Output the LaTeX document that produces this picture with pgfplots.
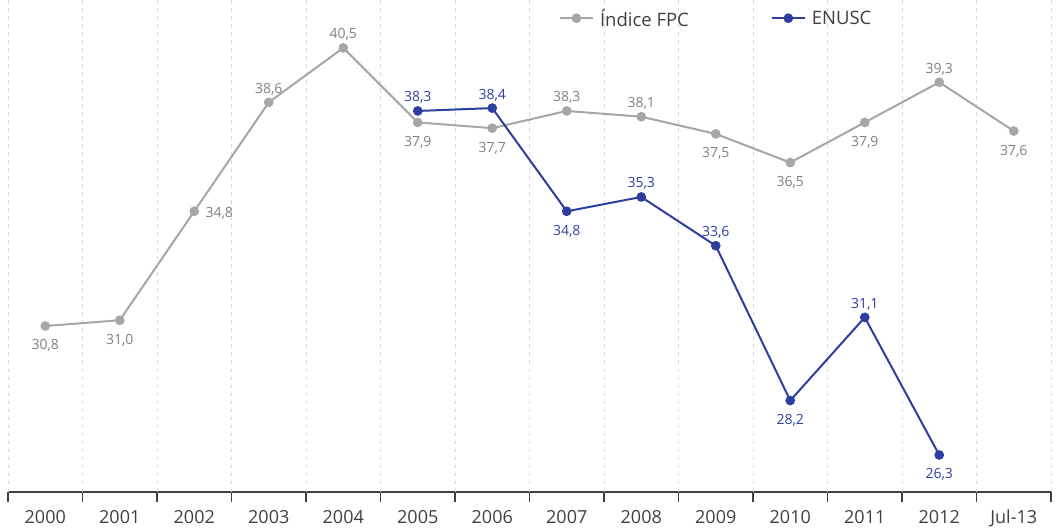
\documentclass[border=0pt]{standalone}
\usepackage{pgfplots}
\usepackage{pgfplotstable}
\usepackage{fontspec}
\pgfplotsset{compat=1.18}
\setmainfont{Open Sans}

\definecolor{fpcgray}{HTML}{A6A6A6}
\definecolor{fpclab}{HTML}{808080}
\definecolor{enuscblue}{HTML}{2E3E9F}
\definecolor{axiscol}{HTML}{404040}
\definecolor{gridcol}{HTML}{D9D9D9}

% x = category index, dx/dy = label offset (pt)
\pgfplotstableread{
x  y     dx  dy
0  30.8  0   -19
1  31.0  0   -19
2  34.8  25  -1
3  38.6  0   14
4  40.5  0   14
5  37.9  0   -19
6  37.7  0   -19
7  38.3  0   14
8  38.1  0   14
9  37.5  0   -19
10 36.5  0   -19
11 37.9  0   -19
12 39.3  0   14
13 37.6  0   -19
}\fpc

\pgfplotstableread{
x  y     dx  dy
5  38.3  0   14
6  38.4  0   14
7  34.8  0   -19
8  35.3  0   14
9  33.6  0   14
10 28.2  0   -19
11 31.1  0   14
12 26.3  0   -18
}\enusc

\begin{document}
\begin{tikzpicture}
\begin{axis}[
    at={(8pt,38pt)}, anchor=south west,
    scale only axis,
    width=1043pt, height=492pt,
    xmin=-0.5, xmax=13.5,
    ymin=25.01, ymax=42.17,
    clip=false,
    axis x line*=bottom,
    axis y line=none,
    axis line style={color=axiscol, line width=1.2pt},
    xtick={0,...,13},
    xticklabels={2000,2001,2002,2003,2004,2005,2006,2007,2008,2009,2010,2011,2012,Jul-13},
    major tick length=0pt,
    xticklabel style={font=\fontsize{18}{20}\selectfont, text=axiscol,
        anchor=north, inner sep=0pt, text height=13pt, yshift=-18pt},
    extra x ticks={-0.5,0.5,...,13.5},
    extra x tick labels={},
    extra x tick style={major tick length=10pt, tick align=outside,
        tick style={color=axiscol, line width=1.2pt},
        grid=major,
        major grid style={color=gridcol, line width=0.8pt, dash pattern=on 3.5pt off 4.5pt}},
    /pgf/number format/.cd, use comma, fixed, fixed zerofill, precision=1, assume math mode=true,
    /pgfplots/.cd,
    nodes near coords,
    visualization depends on={\thisrow{dx} \as \dx},
    visualization depends on={\thisrow{dy} \as \dy},
    every node near coord/.append style={anchor=center, inner sep=0pt,
        text height=10pt, text depth=0pt,
        xshift=\dx pt, yshift=\dy pt,
        font=\fontsize{14}{16}\selectfont},
    legend style={draw=none, fill=none, at={(0.679,0.963)}, anchor=center,
        font=\fontsize{18.5}{20}\selectfont, text=axiscol,
        /tikz/every odd column/.append style={column sep=4pt},
        /tikz/every even column/.append style={column sep=80pt}},
    legend columns=2,
    legend cell align=left,
    legend image code/.code={\draw[mark repeat=2,mark phase=2,#1]
        plot coordinates {(0pt,0pt) (16.5pt,0pt) (33pt,0pt)};},
]
\addplot[color=fpcgray, line width=2pt, mark=*, mark size=3.8pt,
    every node near coord/.append style={text=fpclab}]
    table[x=x, y=y, meta=y] {\fpc};
\addlegendentry{Índice FPC}
\addplot[color=enuscblue, line width=2pt, mark=*, mark size=3.8pt,
    every node near coord/.append style={text=enuscblue}]
    table[x=x, y=y, meta=y] {\enusc};
\addlegendentry{ENUSC}
\end{axis}
\pgfresetboundingbox
\path (0pt,0pt) rectangle (1056pt,530pt);
\end{tikzpicture}
\end{document}
